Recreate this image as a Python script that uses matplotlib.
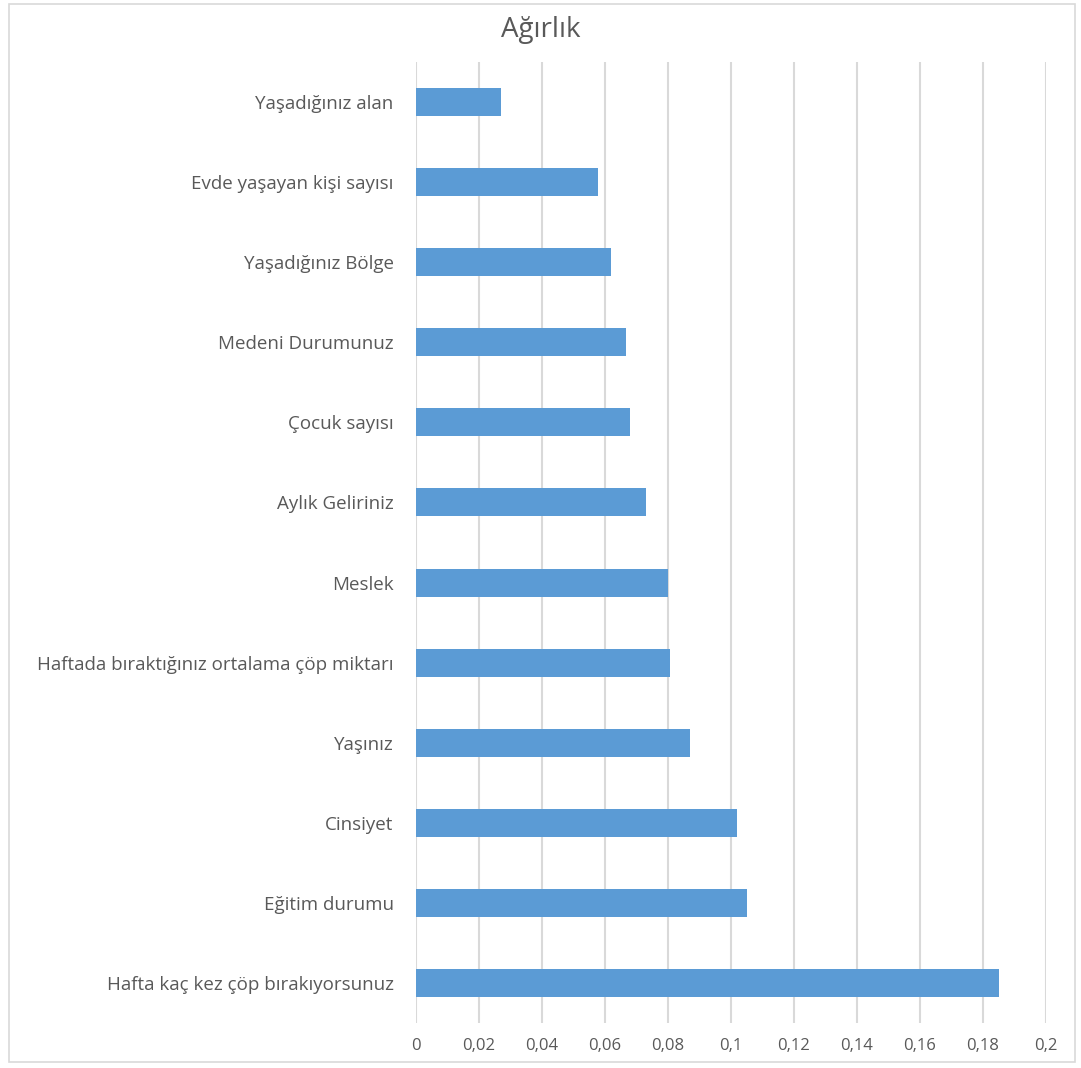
import matplotlib.pyplot as plt
from matplotlib.patches import Rectangle
from matplotlib.ticker import FuncFormatter

kategoriler = ['Hafta kaç kez çöp bırakıyorsunuz', 'Eğitim durumu', 'Cinsiyet', 'Yaşınız',
               'Haftada bıraktığınız ortalama çöp miktarı', 'Meslek', 'Aylık Geliriniz',
               'Çocuk sayısı', 'Medeni Durumunuz', 'Yaşadığınız Bölge',
               'Evde yaşayan kişi sayısı', 'Yaşadığınız alan']
agirlik = [0.185, 0.105, 0.102, 0.087, 0.0806, 0.080, 0.073, 0.068, 0.0667, 0.0619, 0.0578, 0.027]
x_ticks = [0, 0.02, 0.04, 0.06, 0.08, 0.1, 0.12, 0.14, 0.16, 0.18, 0.2]

plt.rcParams['font.family'] = ['Open Sans', 'DejaVu Sans']
gri = '#595959'

fig = plt.figure(figsize=(10.81, 10.68), dpi=100)
ax = fig.add_axes([0.3848, 0.0421, 0.5828, 0.8999])

ax.barh(range(len(kategoriler)), agirlik, height=0.35, color='#5b9bd5', zorder=3)

ax.set_xlim(0, 0.2)
ax.set_ylim(-0.5, len(kategoriler) - 0.5)
ax.set_xticks(x_ticks)
ax.xaxis.set_major_formatter(FuncFormatter(lambda v, p: ('%g' % round(v, 2)).replace('.', ',')))
ax.set_yticks(range(len(kategoriler)))
ax.set_yticklabels(kategoriler)
ax.tick_params(length=0, colors=gri)
ax.tick_params(axis='x', pad=11, labelsize=12)
ax.tick_params(axis='y', pad=16, labelsize=13.5)
ax.grid(axis='x', color='#d9d9d9', linewidth=1.5, zorder=0)
for s in ax.spines.values():
    s.set_visible(False)

fig.text(0.5, 0.972, 'Ağırlık', ha='center', va='center', fontsize=20, color=gri)
fig.patches.append(Rectangle((0.008, 0.006), 0.986, 0.99, transform=fig.transFigure,
                             fill=False, edgecolor='#d9d9d9', linewidth=1.2))

plt.savefig('out.png', dpi=100)
